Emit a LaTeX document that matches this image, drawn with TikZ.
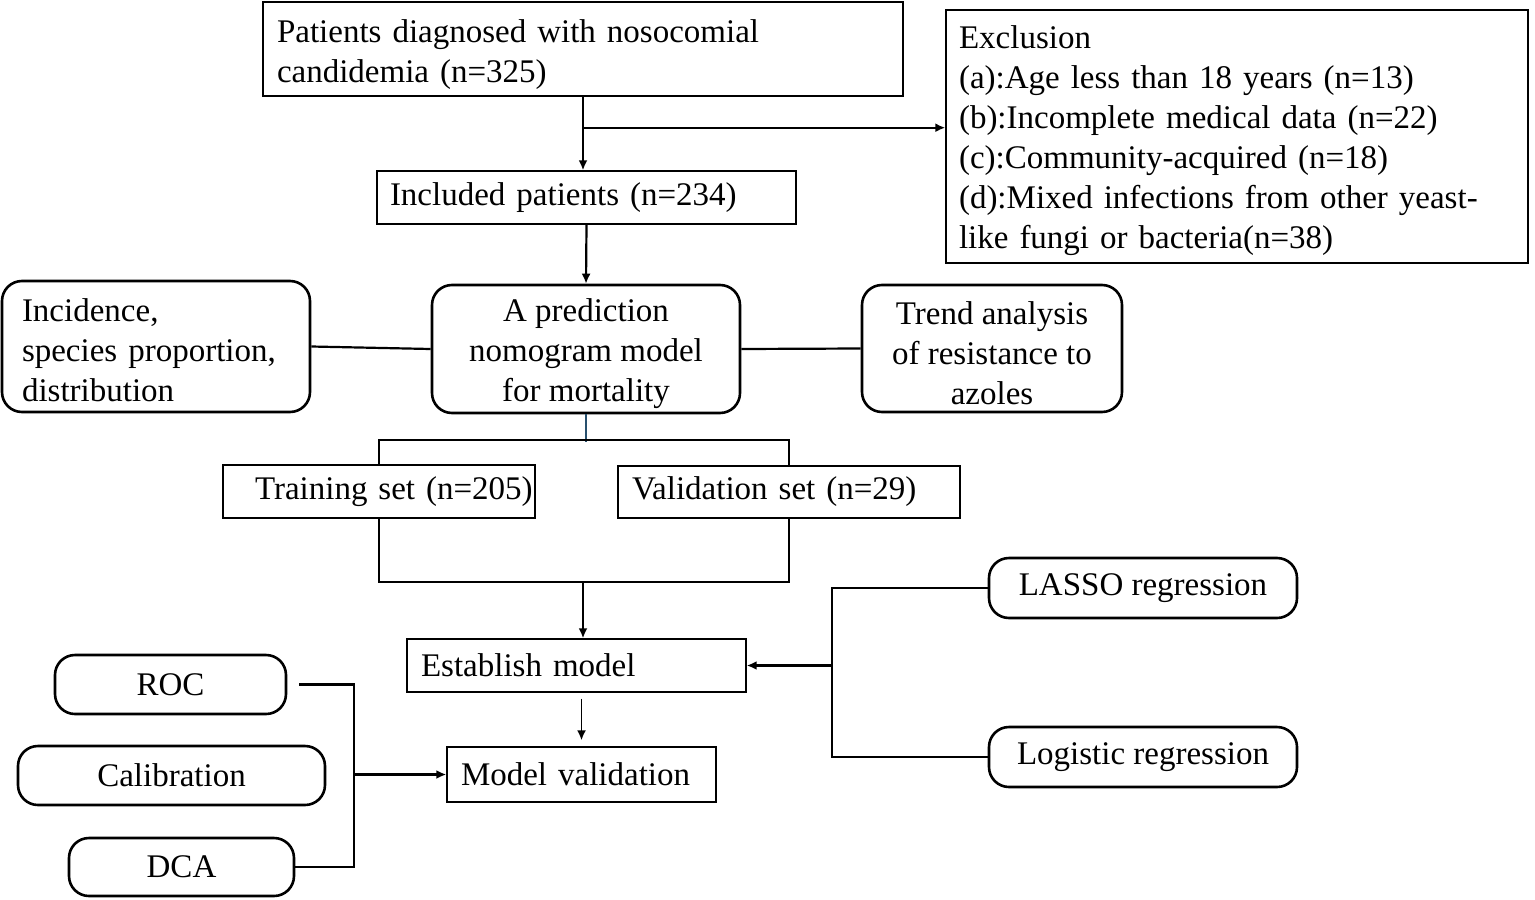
\documentclass[tikz,border=0pt]{standalone}
\usepackage{fontspec}
\setmainfont{Liberation Serif}
\usetikzlibrary{arrows.meta,calc}
\newcommand{\topstrut}[1]{\rule{0pt}{#1}}
\begin{document}
\begin{tikzpicture}[x=0.5pt,y=-0.5pt,
  every node/.style={font=\fontsize{16.5pt}{20pt}\selectfont},
  sbox/.style={draw, line width=0.7pt, inner ysep=0pt},
  rbox/.style={draw, line width=1.3pt, rounded corners=10pt, inner ysep=0pt},
  conn/.style={line width=1.1pt},
  arr/.style={line width=1.1pt, -{Latex[length=5pt,width=4.5pt]}}
]
\useasboundingbox (0,0) rectangle (1535,899);

% boxes
\node[sbox, minimum width=320pt, minimum height=47pt, text width=306pt, inner xsep=7pt, align=left] (p1) at (583,49)
  {\topstrut{17.5pt}Patients diagnosed with nosocomial\\candidemia (n=325)};
\node[sbox, minimum width=291pt, minimum height=126.5pt, text width=278pt, inner xsep=6.5pt, align=left] (excl) at (1237,136.5)
  {\topstrut{15.5pt}Exclusion\\(a):Age less than 18 years (n=13)\\(b):Incomplete medical data (n=22)\\(c):Community-acquired (n=18)\\(d):Mixed infections from other yeast-\\like fungi or bacteria(n=38)};
\node[sbox, minimum height=26.5pt, text width=209.5pt, inner xsep=0pt, align=left] (inc) at (586.5,197.5)
  {\hspace*{6.5pt}Included patients (n=234)};
\node[rbox, minimum width=154pt, minimum height=64pt, align=center] (pred) at (586,349)
  {\topstrut{16pt}A prediction\\nomogram model\\for mortality};
\node[rbox, minimum width=154pt, minimum height=65.5pt, text width=134pt, inner xsep=10pt, align=left] (incid) at (156,346.5)
  {\topstrut{15.5pt}Incidence,\\species proportion,\\distribution};
\node[rbox, minimum width=130pt, minimum height=63.5pt, align=center] (trend) at (992,348.5)
  {\topstrut{16pt}Trend analysis\\of resistance to\\azoles};
\node[sbox, minimum height=26.5pt, text width=156pt, inner xsep=0pt, align=left] (train) at (379,491.5)
  {\hspace*{16pt}Training set (n=205)};
\node[sbox, minimum height=26pt, text width=171pt, inner xsep=0pt, align=left] (valid) at (789,492)
  {\hspace*{7pt}Validation set (n=29)};
\node[sbox, minimum height=26.5pt, text width=169.5pt, inner xsep=0pt, align=left] (estab) at (576.5,665.5)
  {\hspace*{7pt}Establish model};
\node[sbox, minimum height=27.5pt, text width=134.5pt, inner xsep=0pt, align=left] (mval) at (581.5,774.5)
  {\hspace*{7pt}Model validation};
\node[rbox, minimum width=154pt, minimum height=30pt] (lasso) at (1143,588) {LASSO regression};
\node[rbox, minimum width=154pt, minimum height=30pt] (logit) at (1143,757) {Logistic regression};
\node[rbox, minimum width=115.5pt, minimum height=29.5pt] (roc) at (170.5,684.5) {ROC};
\node[rbox, minimum width=153.5pt, minimum height=29.5pt] (calib) at (171.5,775.5) {Calibration};
\node[rbox, minimum width=112.5pt, minimum height=29pt] (dca) at (181.5,867) {DCA};

% connectors
\draw[arr] (p1.south) -- (p1.south |- inc.north);
\coordinate (br) at ($(p1.south)+(0,31)$);
\draw[arr] (br) -- (br -| excl.west);
\draw[arr] (inc.south) -- (pred.north);
\draw[conn] (incid.east) -- (pred.west);
\draw[conn] (pred.east) -- (trend.west);
\draw[line width=0.6pt, draw={rgb,255:red,40;green,80;blue,110}] (pred.south) -- ++(0,28);
\draw[conn] (train.north) -- ++(0,-24) -| (valid.north);
\draw[conn] (train.south) -- ++(0,63) -| (valid.south);
\coordinate (j2) at (583,581);
\draw[arr] (j2) -- (j2 |- estab.north);
\draw[line width=0.9pt, -{Latex[length=5pt,width=4.5pt]}] (mval.north |- estab.south) ++(0,6) -- ($(mval.north)+(0,-6)$);
\coordinate (jl) at ($(estab.east)+(85,0)$);
\draw[conn] (lasso.west) -| (jl);
\draw[conn] (logit.west) -| (jl);
\draw[arr] (jl) -- (estab.east);
\coordinate (jr) at ($(mval.west)+(-92,0)$);
\draw[conn] ($(roc.east)+(12,0)$) -| (jr);
\draw[conn] (dca.east) -| (jr);
\draw[arr] (jr) -- (mval.west);
\end{tikzpicture}
\end{document}
